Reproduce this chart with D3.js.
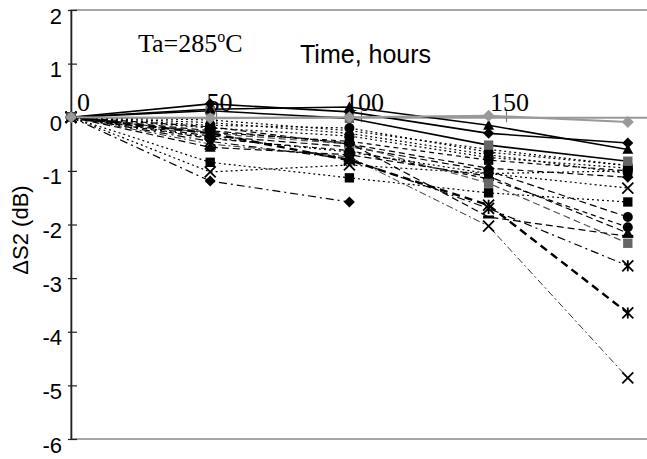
<!DOCTYPE html>
<html><head><meta charset="utf-8">
<script src="https://cdn.jsdelivr.net/npm/d3@7"></script>
<style>body{margin:0;background:#fff}svg{display:block}</style>
</head><body>
<svg id="chart" width="647" height="459"></svg>
<script>
// ---- data ----
const hours = [0, 48, 96, 144, 192];
const xTickValues = [0, 50, 100, 150];
const yTickValues = [2, 1, 0, -1, -2, -3, -4, -5, -6];

const sSolidDiamond  = [0, 0.25, 0.10, -0.30, -0.48];
const sSolidTriangle = [0, 0.15, 0.19, -0.15, -0.60];
const sSolidGraySq   = [0, 0.12, -0.02, -0.52, -0.82];
const sDotCircleA    = [0, -0.15, -0.20, -0.65, -0.90];
const sDotSquare     = [0, -0.84, -1.13, -1.41, -1.58];
const sDashDotDiam   = [0, -1.19, -1.58];
const sDotX          = [0, -1.02, -0.89, -1.05, -1.32];
const sDashTriangle  = [0, -0.56, -0.70, -1.10, -2.16];
const sDashCircleA   = [0, -0.35, -0.55, -1.00, -1.86];
const sDashCircleB   = [0, -0.40, -0.62, -1.15, -2.05];
const sDashGraySq    = [0, -0.30, -0.50, -1.23, -2.35];
const sHeavyAster    = [0, -0.30, -0.80, -1.64, -3.65];
const sThinX         = [0, -0.50, -0.74, -2.03, -4.86];
const sDashDotAster  = [0, -0.45, -0.78, -1.70, -2.77];
const sDashBar       = [0, -0.25, -0.48, -1.86, -2.22];
const sDotCircleB    = [0, -0.20, -0.35, -0.75, -0.95];
const sDashSquare    = [0, -0.28, -0.45, -0.80, -1.00];
const sDotTriangleA  = [0, -0.10, -0.30, -0.70, -1.05];
const sDashDiamond   = [0, -0.18, -0.50, -0.95, -1.12];
const sDotCircleC    = [0, -0.38, -0.65, -1.05, -1.00];
const sDotTriangleB  = [0, -0.05, -0.25, -0.60, -0.90];
const sGrayDiamond   = [0, -0.02, 0.00, 0.03, -0.09];

// ---- styles (kept separate from data) ----
const series = [
  {v: sDotCircleA,   dash: "2,3",        w: 1.2, c: "#000", m: "circle",   mc: "#000"},
  {v: sDotSquare,    dash: "2,3",        w: 1.2, c: "#000", m: "square",   mc: "#000"},
  {v: sDashDotDiam,  dash: "8,4,2,4",    w: 1.2, c: "#000", m: "diamond",  mc: "#000"},
  {v: sDotX,         dash: "2,3",        w: 1.2, c: "#000", m: "x",        mc: "#000"},
  {v: sDashTriangle, dash: "7,4",        w: 1.2, c: "#000", m: "triangle", mc: "#000"},
  {v: sDashCircleA,  dash: "7,4",        w: 1.2, c: "#000", m: "circle",   mc: "#000"},
  {v: sDashCircleB,  dash: "5,4",        w: 1.2, c: "#000", m: "circle",   mc: "#000"},
  {v: sDashGraySq,   dash: "7,4",        w: 1.2, c: "#555", m: "square",   mc: "#666"},
  {v: sHeavyAster,   dash: "8,5",        w: 2.4, c: "#000", m: "asterisk", mc: "#000"},
  {v: sThinX,        dash: "7,3,2,3",    w: 0.8, c: "#000", m: "x",        mc: "#000"},
  {v: sDashDotAster, dash: "8,4,2,4",    w: 1.2, c: "#000", m: "asterisk", mc: "#000"},
  {v: sDashBar,      dash: "7,4",        w: 1.2, c: "#000", m: "bar",      mc: "#000"},
  {v: sDotCircleB,   dash: "2,3",        w: 1.2, c: "#000", m: "circle",   mc: "#000"},
  {v: sDashSquare,   dash: "5,4",        w: 1.2, c: "#000", m: "square",   mc: "#000"},
  {v: sDotTriangleA, dash: "2,3",        w: 1.2, c: "#000", m: "triangle", mc: "#000"},
  {v: sDashDiamond,  dash: "6,4",        w: 1.2, c: "#000", m: "diamond",  mc: "#000"},
  {v: sDotCircleC,   dash: "2,3",        w: 1.2, c: "#000", m: "circle",   mc: "#000"},
  {v: sDotTriangleB, dash: "2,3",        w: 1.2, c: "#000", m: "triangle", mc: "#000"},
  {v: sSolidGraySq,  dash: null,         w: 1.6, c: "#000", m: "square",   mc: "#666"},
  {v: sSolidTriangle,dash: null,         w: 1.6, c: "#000", m: "triangle", mc: "#000"},
  {v: sSolidDiamond, dash: null,         w: 1.6, c: "#000", m: "diamond",  mc: "#000"},
  {v: sGrayDiamond,  dash: null,         w: 2.0, c: "#999", m: "diamond",  mc: "#999", r: 6}
];

const svg = d3.select("#chart");
const x = d3.scaleLinear().domain([0, 200]).range([71, 651]);
const y = d3.scaleLinear().domain([2, -6]).range([10, 439]);

const SANS = "'Liberation Sans', Arial, sans-serif";
const SERIF = "'Liberation Serif', 'Times New Roman', serif";

// frame
svg.append("rect").attr("x", x(0)).attr("y", y(2))
  .attr("width", x(200) - x(0)).attr("height", y(-6) - y(2))
  .attr("fill", "none").attr("stroke", "#888").attr("stroke-width", 1.5);

// y axis
const yAxis = svg.append("g").attr("transform", `translate(${x(0)},0)`)
  .call(d3.axisLeft(y).tickValues(yTickValues).tickSize(0).tickPadding(9).tickFormat(d => String(d)));
yAxis.select(".domain").attr("stroke", "#222").attr("stroke-width", 1.6);
yAxis.selectAll(".tick text").attr("font-family", SANS).attr("font-size", 22)
  .attr("fill", "#000").attr("y", 6).attr("text-anchor", "end");
yAxis.selectAll(".tick").append("line").attr("x1", -3).attr("x2", 6)
  .attr("stroke", "#222").attr("stroke-width", 1.2);

// x axis at zero
const xAxis = svg.append("g").attr("transform", `translate(0,${y(0)})`)
  .call(d3.axisTop(x).tickValues(xTickValues).tickSize(0).tickPadding(6));
xAxis.select(".domain").attr("stroke", "#999").attr("stroke-width", 2);
xAxis.selectAll(".tick text").attr("font-family", SERIF).attr("font-size", 26)
  .attr("fill", "#000").attr("dx", d => d === 0 ? 12 : 3);
xAxis.selectAll(".tick").append("line").attr("y1", -6).attr("y2", 5)
  .attr("stroke", "#777").attr("stroke-width", 1.2);

// lines
const line = d3.line().x((d, i) => x(hours[i])).y(d => y(d));
const linesG = svg.append("g");
series.forEach(s => {
  linesG.append("path").datum(s.v).attr("d", line)
    .attr("fill", "none").attr("stroke", s.c).attr("stroke-width", s.w)
    .attr("stroke-dasharray", s.dash);
});

// markers
function markerPath(type, r) {
  switch (type) {
    case "diamond": return `M0,${-r}L${r},0L0,${r}L${-r},0Z`;
    case "square": r *= 0.85; return `M${-r},${-r}H${r}V${r}H${-r}Z`;
    case "triangle": return `M0,${-r}L${r},${r * 0.8}L${-r},${r * 0.8}Z`;
    case "x": return `M${-r},${-r}L${r},${r}M${-r},${r}L${r},${-r}`;
    case "asterisk": return `M${-r},${-r}L${r},${r}M${-r},${r}L${r},${-r}M0,${-r}V${r}`;
    case "bar": return `M${-r},-1.5H${r}V1.5H${-r}Z`;
  }
}
const markG = svg.append("g");
series.forEach(s => {
  const r = s.r || 5.5;
  s.v.forEach((v, i) => {
    const t = `translate(${x(hours[i])},${y(v)})`;
    if (s.m === "circle") {
      markG.append("circle").attr("transform", t).attr("r", 5).attr("fill", s.mc);
    } else if (s.m === "x" || s.m === "asterisk") {
      markG.append("path").attr("transform", t).attr("d", markerPath(s.m, r))
        .attr("fill", "none").attr("stroke", s.mc).attr("stroke-width", 1.8);
    } else {
      markG.append("path").attr("transform", t).attr("d", markerPath(s.m, r)).attr("fill", s.mc);
    }
  });
});

// texts
const ta = svg.append("text").attr("x", 138).attr("y", 52)
  .attr("font-family", SERIF).attr("font-size", 26).attr("fill", "#000");
ta.append("tspan").text("Ta=285");
ta.append("tspan").attr("font-size", 16).attr("dy", -10).text("o");
ta.append("tspan").attr("dy", 10).text("C");

svg.append("text").attr("x", 300).attr("y", 63)
  .attr("font-family", SANS).attr("font-size", 25).attr("fill", "#000")
  .text("Time, hours");

svg.append("text").attr("transform", "translate(28,230) rotate(-90)")
  .attr("text-anchor", "middle").attr("font-family", SANS).attr("font-size", 22)
  .attr("fill", "#000").text("ΔS2 (dB)");
</script>
</body></html>
